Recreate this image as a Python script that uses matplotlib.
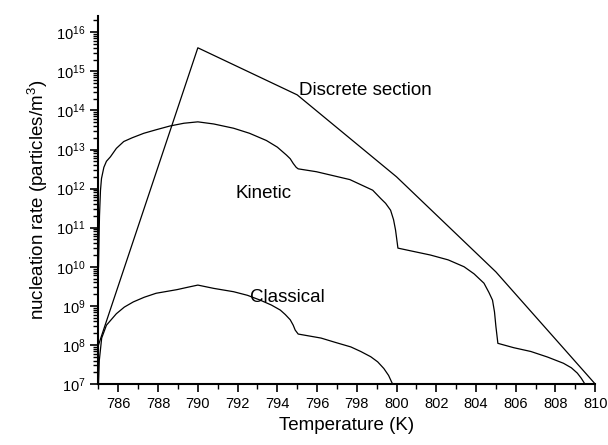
import matplotlib
matplotlib.use('Agg')
import matplotlib.pyplot as plt
from matplotlib.ticker import MultipleLocator, LogLocator, NullFormatter

plt.rcParams['font.family'] = ['Liberation Sans', 'DejaVu Sans']
plt.rcParams['mathtext.fontset'] = 'custom'
plt.rcParams['mathtext.rm'] = 'Liberation Sans'
plt.rcParams['mathtext.it'] = 'Liberation Sans:italic'

# discrete section model
t_disc = [785, 790, 795, 800, 805, 810]
j_disc = [1.0e8, 4.0e15, 2.5e14, 2.0e12, 7.4e9, 1.0e7]

# kinetic model
t_kin = [785.0, 785.05, 785.1, 785.15, 785.27, 785.4, 785.6, 785.9, 786.27,
         786.7, 787.28, 787.9, 788.6, 789.3, 790.0, 790.8, 791.8, 792.6,
         793.45, 794.0, 794.46, 794.65, 794.8, 794.95, 795.05, 795.97, 797.65,
         798.2, 798.8, 799.2, 799.45, 799.7, 799.85, 799.95, 800.07, 800.8,
         801.7, 802.6, 803.4, 803.9, 804.4, 804.65, 804.83, 804.93, 805.0,
         805.1, 805.9, 806.76, 807.6, 808.4, 808.8, 809.1, 809.3, 809.48]
j_kin = [1.0e10, 2.0e11, 9.0e11, 1.8e12, 3.5e12, 5.0e12, 6.5e12, 1.07e13, 1.6e13,
         2.0e13, 2.6e13, 3.2e13, 4.0e13, 4.7e13, 5.1e13, 4.5e13, 3.5e13, 2.6e13,
         1.7e13, 1.15e13, 7.2e12, 5.8e12, 4.4e12, 3.5e12, 3.2e12, 2.7e12, 1.7e12,
         1.26e12, 9.1e11, 5.6e11, 4.2e11, 2.8e11, 1.6e11, 8.7e10, 3.0e10, 2.5e10,
         2.0e10, 1.5e10, 1.0e10, 6.6e9, 3.8e9, 2.2e9, 1.4e9, 7.0e8, 3.0e8,
         1.1e8, 8.5e7, 6.8e7, 4.9e7, 3.4e7, 2.6e7, 1.9e7, 1.4e7, 1.0e7]

# classical model
t_cl = [785.0, 785.04, 785.16, 785.4, 785.9, 786.3, 786.75, 787.3, 787.9,
        788.95, 789.5, 790.0, 790.8, 791.8, 792.5, 793.14, 793.7, 794.15,
        794.4, 794.65, 794.8, 794.9, 795.05, 796.2, 796.9, 797.7, 798.2,
        798.7, 799.05, 799.36, 799.6, 799.8]
j_cl = [1.0e7, 4.0e7, 1.5e8, 3.2e8, 6.3e8, 9.3e8, 1.26e9, 1.66e9, 2.1e9,
        2.6e9, 3.0e9, 3.4e9, 2.8e9, 2.3e9, 1.86e9, 1.4e9, 1.05e9, 7.8e8,
        6.0e8, 4.4e8, 3.2e8, 2.4e8, 1.9e8, 1.5e8, 1.17e8, 8.9e7, 6.8e7,
        5.0e7, 3.7e7, 2.5e7, 1.66e7, 1.0e7]

fig = plt.figure(figsize=(6.08, 4.45), dpi=100)
ax = fig.add_axes([0.162, 0.137, 0.817, 0.827])

ax.plot(t_disc, j_disc, color='k', lw=0.9)
ax.plot(t_kin, j_kin, color='k', lw=0.9)
ax.plot(t_cl, j_cl, color='k', lw=0.9)

ax.set_yscale('log')
ax.set_xlim(785, 810)
ax.set_ylim(1e7, 2.6e16)

ax.xaxis.set_major_locator(MultipleLocator(2))
ax.xaxis.set_minor_locator(MultipleLocator(1))
ax.set_xticks(list(range(786, 811, 2)))
ax.yaxis.set_major_locator(LogLocator(base=10, numticks=20))
ax.yaxis.set_minor_locator(LogLocator(base=10, subs=range(2, 10), numticks=200))
ax.yaxis.set_minor_formatter(NullFormatter())

for s in ['top', 'right']:
    ax.spines[s].set_visible(False)
for s in ['left', 'bottom']:
    ax.spines[s].set_linewidth(1.5)

ax.tick_params(which='major', direction='out', length=6, width=1.2, labelsize=10.5)
ax.tick_params(which='minor', direction='out', length=3.5, width=1.0)

ax.set_xlabel('Temperature (K)', fontsize=13.5)
ax.set_ylabel('nucleation rate (particles/$\\mathregular{m^3}$)', fontsize=13.5)

ax.text(795.1, 2.0e14, 'Discrete section', fontsize=13.5, va='bottom', ha='left')
ax.text(791.9, 7.5e11, 'Kinetic', fontsize=13.5, va='center', ha='left')
ax.text(792.6, 1.65e9, 'Classical', fontsize=13.5, va='center', ha='left')

fig.savefig('out.png', dpi=100)
